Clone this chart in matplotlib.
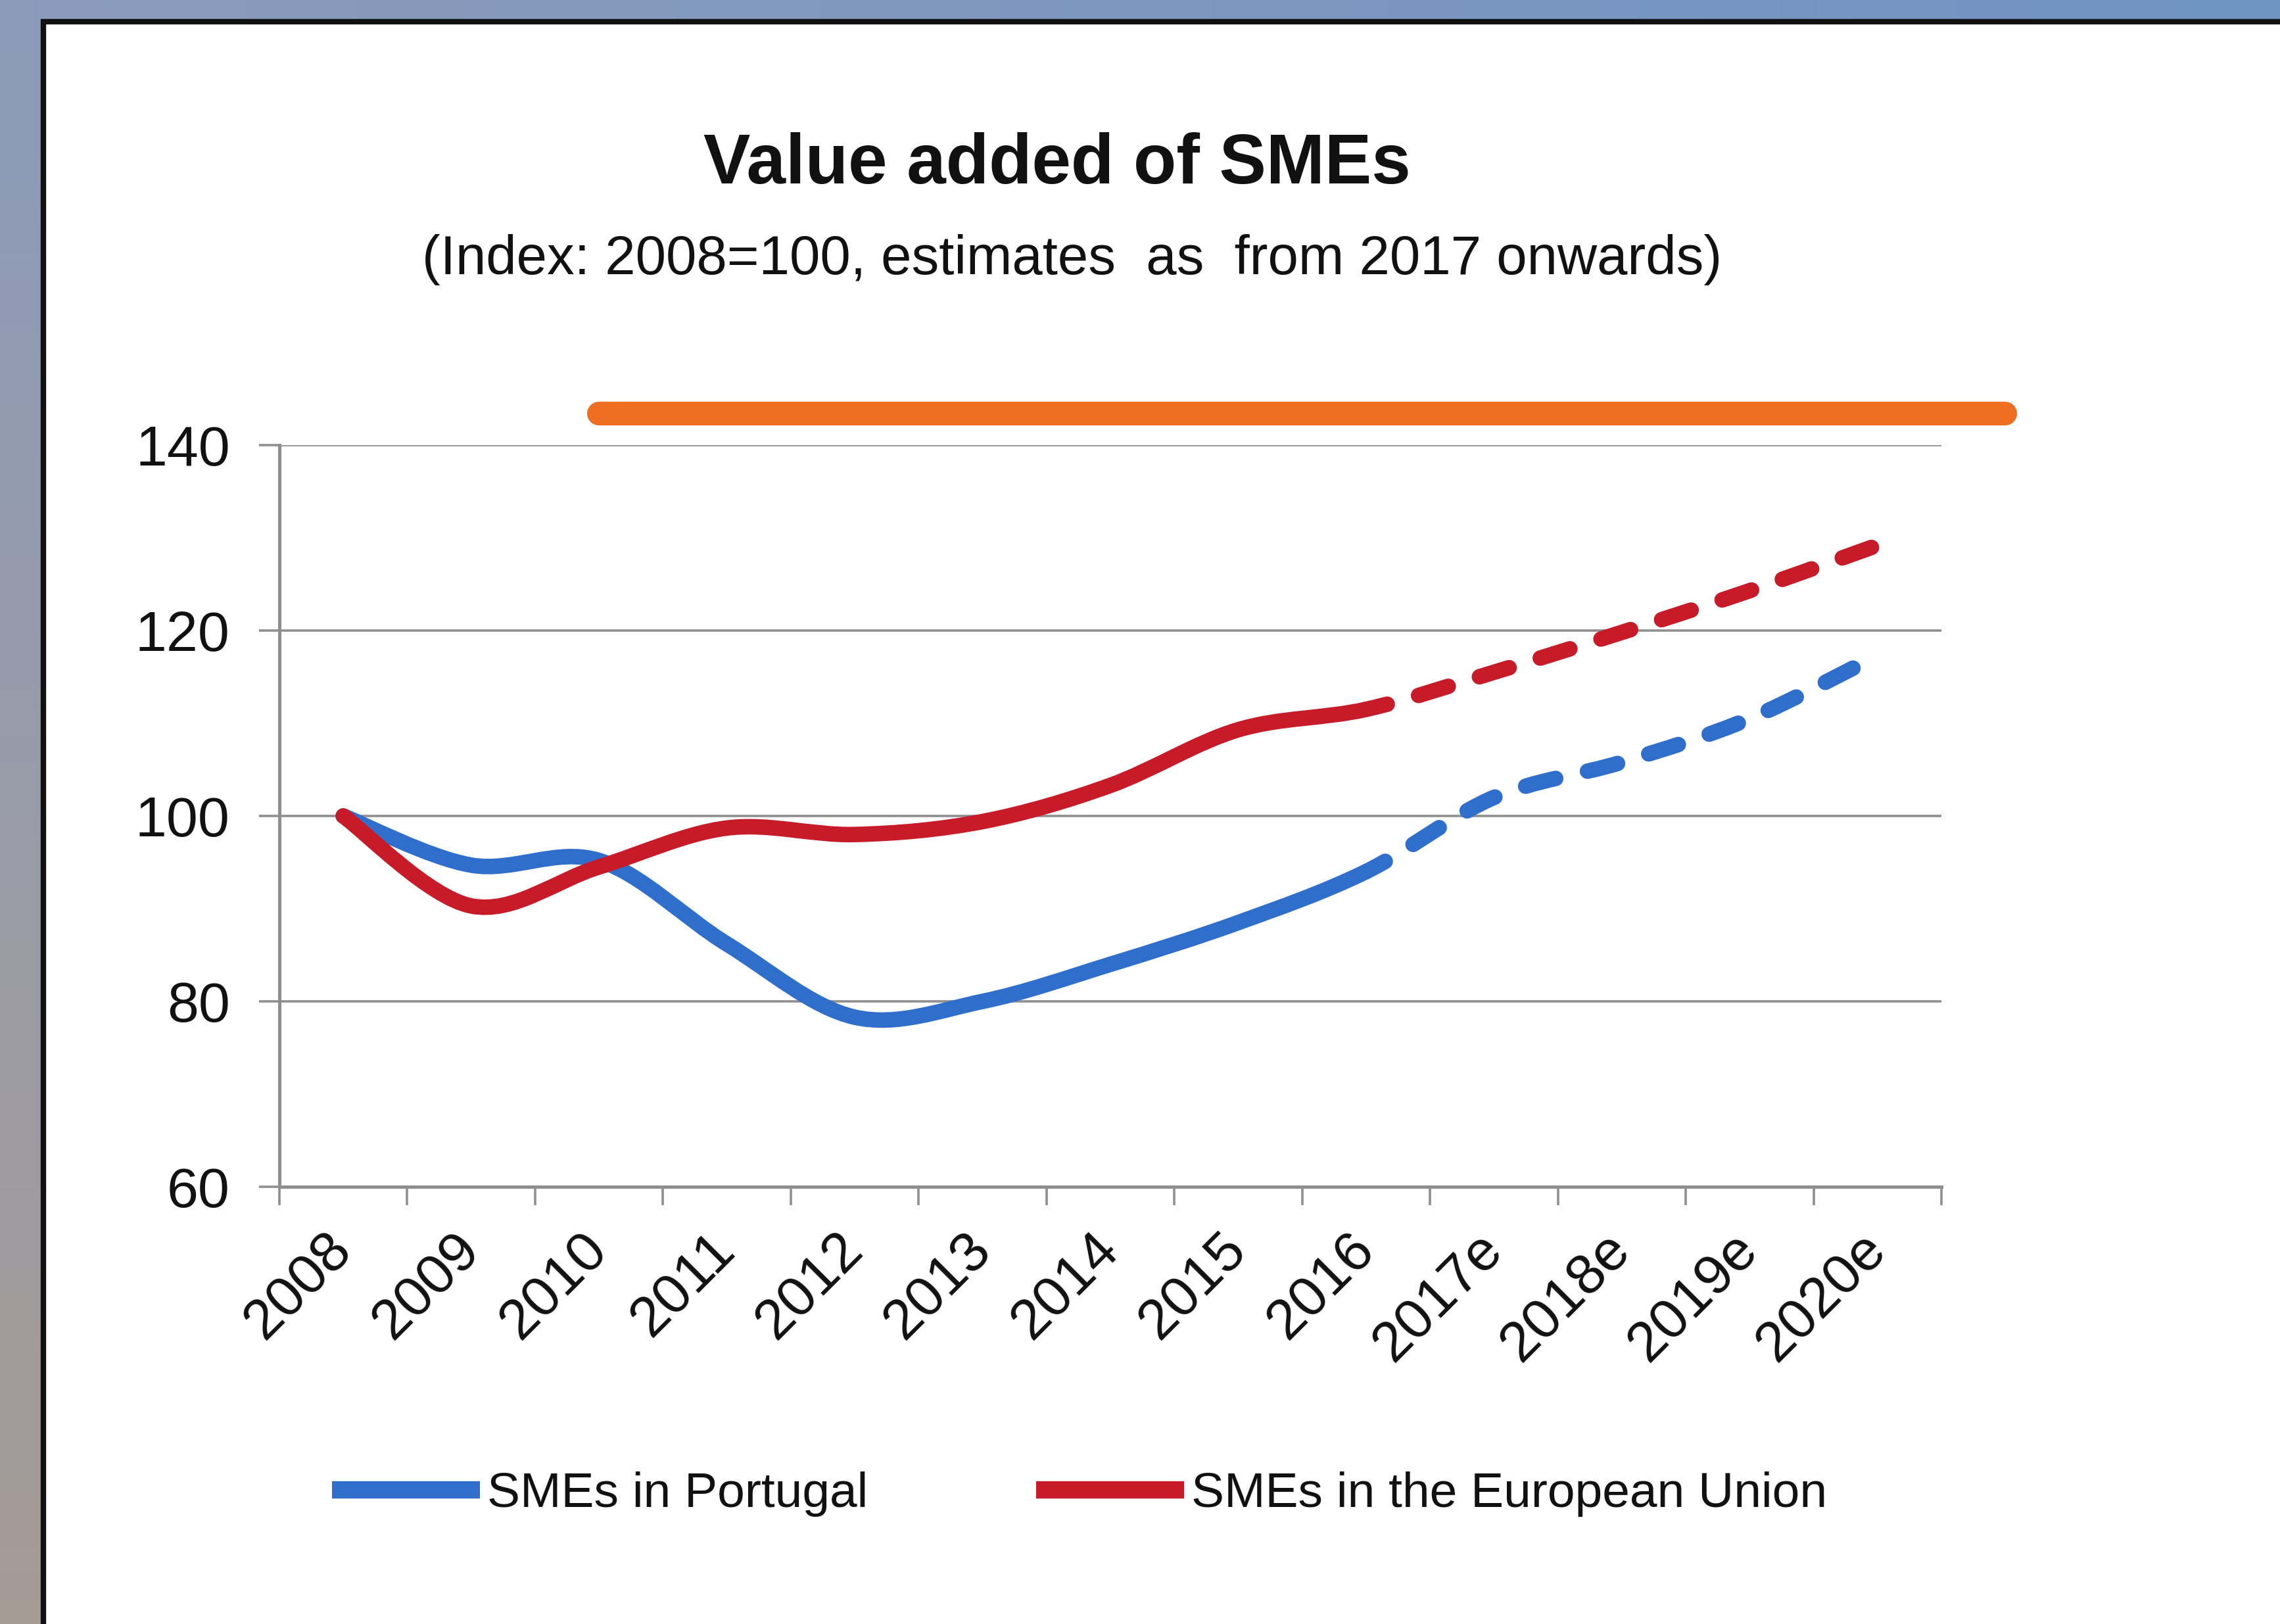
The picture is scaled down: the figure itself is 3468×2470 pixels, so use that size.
import numpy as np
import matplotlib.pyplot as plt
from matplotlib.path import Path
from matplotlib.patches import PathPatch, Rectangle
from matplotlib.lines import Line2D

plt.rcParams['font.family'] = ['Liberation Sans', 'DejaVu Sans']

# Data (index 2008 = 100, values from 2017 on are estimates)
years = ['2008', '2009', '2010', '2011', '2012', '2013', '2014', '2015', '2016',
         '2017e', '2018e', '2019e', '2020e']
portugal = [100.0, 94.7, 95.2, 86.2, 78.3, 80.0, 84.0, 88.5, 94.0,
            102.0, 105.8, 110.5, 117.3]
eu = [100.0, 90.3, 94.5, 98.7, 98.0, 99.4, 103.3, 109.3, 111.5,
      115.5, 119.8, 124.3, 129.2]
last_actual = 8  # 2016 is the last observed year

# orange marker stroke drawn over the top of the chart
highlight_level = 143.4
highlight_span = (2.5, 13.5)

blue = '#2F6FCB'
red = '#C81B29'
orange = '#EE6E22'
grid_grey = '#8F8F8F'


def smooth_segments(xs, ys):
    """Bezier control points for a smoothed line through the points."""
    pts = np.column_stack([xs, ys])
    n = len(pts)
    segs = []
    for i in range(n - 1):
        p0 = pts[max(i - 1, 0)]
        p1 = pts[i]
        p2 = pts[i + 1]
        p3 = pts[min(i + 2, n - 1)]
        c1 = p1 + (p2 - p0) / 6.0
        c2 = p2 - (p3 - p1) / 6.0
        segs.append((p1, c1, c2, p2))
    return segs


def bezier_path(segs):
    verts = [segs[0][0]]
    codes = [Path.MOVETO]
    for _, c1, c2, p2 in segs:
        verts += [c1, c2, p2]
        codes += [Path.CURVE4] * 3
    return Path(np.array(verts), codes)


fig = plt.figure(figsize=(17.34, 12.35), dpi=200)

# backdrop behind the white chart panel
bg = fig.add_axes([0, 0, 1, 1])
tl = np.array([140, 155, 186]) / 255
tr = np.array([112, 148, 196]) / 255
bl = np.array([166, 156, 150]) / 255
br = np.array([160, 156, 160]) / 255
u = np.linspace(0, 1, 64)[None, :, None]
v = np.linspace(0, 1, 64)[:, None, None]
grad = (1 - v) * ((1 - u) * tl + u * tr) + v * ((1 - u) * bl + u * br)
bg.imshow(grad, aspect='auto', extent=[0, 1, 0, 1], origin='upper')
bg.add_patch(Rectangle((66 / 3468, -0.05), 1.0, 0.05 + 1 - 33 / 2470,
                       transform=bg.transAxes, facecolor='white',
                       edgecolor='#111111', linewidth=3.0))
bg.set_xlim(0, 1)
bg.set_ylim(0, 1)
bg.axis('off')

ax = fig.add_axes([0.1225, 0.2692, 0.7290, 0.4567])
ax.set_facecolor('none')

x = np.arange(len(years)) + 0.5
for series, color in [(portugal, blue), (eu, red)]:
    segs = smooth_segments(x, series)
    solid = PathPatch(bezier_path(segs[:last_actual]), fill=False,
                      edgecolor=color, linewidth=8.5, capstyle='round',
                      joinstyle='round', zorder=3)
    dashed = PathPatch(bezier_path(segs[last_actual:]), fill=False,
                       edgecolor=color, linewidth=8.5, capstyle='round',
                       joinstyle='round', linestyle=(0.6, (2.0, 2.1)), zorder=3)
    ax.add_patch(solid)
    ax.add_patch(dashed)

ax.plot(highlight_span, [highlight_level, highlight_level], color=orange,
        linewidth=13, solid_capstyle='round', clip_on=False, zorder=4)

ax.set_xlim(0, len(years))
ax.set_ylim(60, 140)
ax.set_yticks(np.arange(60, 141, 20))
ax.set_xticks(np.arange(0, len(years) + 1))
ax.set_xticklabels([])
ax.set_xticks(x, minor=True)
ax.set_xticklabels(years, minor=True, rotation=45, ha='right',
                   rotation_mode='anchor', va='center')
ax.tick_params(axis='x', which='major', length=10, width=1.3, color=grid_grey,
               direction='out')
ax.tick_params(axis='x', which='minor', length=0, pad=30, labelsize=31,
               labelcolor='#111111')
ax.tick_params(axis='y', length=11, width=1.3, color=grid_grey, pad=16,
               labelsize=31, labelcolor='#111111')

ax.yaxis.grid(True, color=grid_grey, linewidth=1.3)
ax.set_axisbelow(True)
for side in ['top', 'right']:
    ax.spines[side].set_visible(False)
for side in ['left', 'bottom']:
    ax.spines[side].set_color(grid_grey)
    ax.spines[side].set_linewidth(1.8)

fig.text(0.4637, 0.8985, 'Value added of SMEs', ha='center', va='center',
         fontsize=38.5, fontweight='bold', color='#111111')
fig.text(0.4703, 0.8400, '(Index: 2008=100, estimates  as  from 2017 onwards)',
         ha='center', va='center', fontsize=30, color='#111111')

handles = [Line2D([], [], color=blue, linewidth=9.5, solid_capstyle='butt'),
           Line2D([], [], color=red, linewidth=9.5, solid_capstyle='butt')]
fig.legend(handles, ['SMEs in Portugal', 'SMEs in the European Union'],
           loc='center', bbox_to_anchor=(0.4735, 0.080), ncol=2, frameon=False,
           fontsize=27, handlelength=3.0, handletextpad=0.15,
           columnspacing=3.4, borderpad=0, labelcolor='#111111')

fig.savefig('out.png', dpi=200)
